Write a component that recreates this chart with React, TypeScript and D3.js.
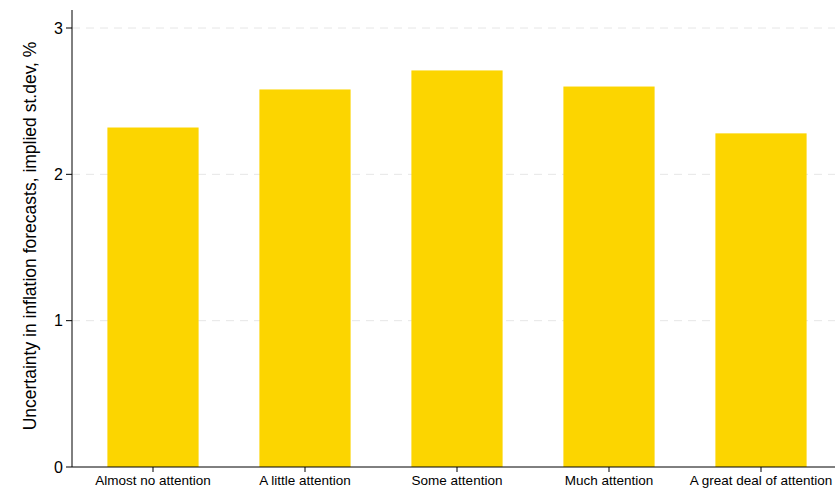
import React from "react";
import * as d3 from "d3";

const categories = [
  "Almost no attention",
  "A little attention",
  "Some attention",
  "Much attention",
  "A great deal of attention",
];
const values = [2.32, 2.58, 2.71, 2.6, 2.28];
const yTicks = [0, 1, 2, 3];

const W = 835;
const H = 490;

export default function App() {
  const x = d3
    .scaleBand<string>()
    .domain(categories)
    .range([77, 837])
    .paddingInner(0.4)
    .paddingOuter(0.2);
  const y = d3.scaleLinear().domain([0, 3]).range([467, 28]);
  const axisX = 72;

  return (
    <svg
      width={W}
      height={H}
      style={{ position: "absolute", left: 0, top: 0, background: "#fff" }}
      fontFamily="Liberation Sans, Arial, sans-serif"
    >
      {yTicks.slice(1).map((t) => (
        <line
          key={t}
          x1={axisX}
          x2={W}
          y1={y(t)}
          y2={y(t)}
          stroke="#e6e6e6"
          strokeDasharray="8,6"
        />
      ))}
      {categories.map((c, i) => (
        <rect
          key={c}
          x={x(c)}
          y={y(values[i])}
          width={x.bandwidth()}
          height={y(0) - y(values[i])}
          fill="#FCD500"
        />
      ))}
      <line x1={axisX} x2={axisX} y1={10} y2={467} stroke="#000" />
      <line x1={axisX} x2={W} y1={467} y2={467} stroke="#000" />
      {yTicks.map((t) => (
        <g key={t}>
          <line x1={axisX - 6} x2={axisX} y1={y(t)} y2={y(t)} stroke="#000" />
          <text x={axisX - 9} y={y(t)} dy="0.35em" textAnchor="end" fontSize={16}>
            {t}
          </text>
        </g>
      ))}
      {categories.map((c) => (
        <g key={c}>
          <line
            x1={x(c)! + x.bandwidth() / 2}
            x2={x(c)! + x.bandwidth() / 2}
            y1={467}
            y2={472}
            stroke="#000"
          />
          <text
            x={x(c)! + x.bandwidth() / 2}
            y={485}
            textAnchor="middle"
            fontSize={13.5}
          >
            {c}
          </text>
        </g>
      ))}
      <text
        transform={`translate(36,236) rotate(-90)`}
        textAnchor="middle"
        fontSize={17.5}
      >
        Uncertainty in inflation forecasts, implied st.dev, %
      </text>
    </svg>
  );
}
